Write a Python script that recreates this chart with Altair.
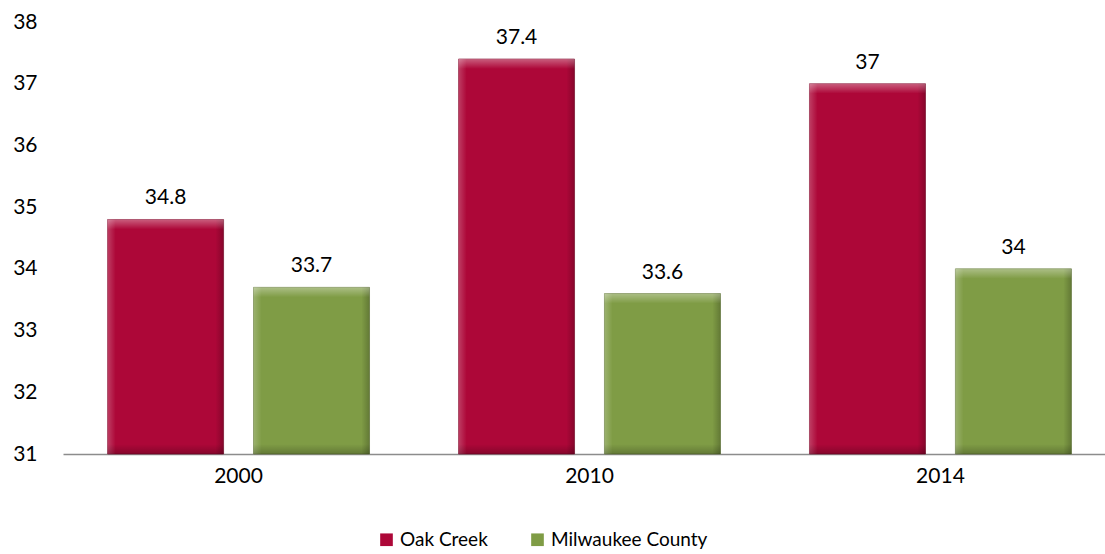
import altair as alt
import pandas as pd

years = ["2000", "2010", "2014"]
series = ["Oak Creek", "Milwaukee County"]
oak_creek = [34.8, 37.4, 37.0]
milwaukee = [33.7, 33.6, 34.0]
labels_oak = ["34.8", "37.4", "37"]
labels_mil = ["33.7", "33.6", "34"]
colors = ["#AD0738", "#7F9C45"]
y_ticks = [31, 32, 33, 34, 35, 36, 37, 38]

rows = []
for i, y in enumerate(years):
    rows.append({"year": y, "series": series[0], "value": oak_creek[i], "label": labels_oak[i]})
    rows.append({"year": y, "series": series[1], "value": milwaukee[i], "label": labels_mil[i]})
df = pd.DataFrame(rows)

FONT = "Lato"
FS = 21

x = alt.X("year:N", sort=years, title=None,
          scale=alt.Scale(range=[0, 1053], paddingInner=0.2536, paddingOuter=0.127),
          axis=alt.Axis(labelAngle=0, tickSize=0, labelPadding=11, labelFontSize=FS,
                        labelFont=FONT, labelColor="#000000", domainColor="#8c8c8c",
                        domainWidth=1.5))
xo = alt.XOffset("series:N", sort=series, scale=alt.Scale(paddingInner=0.205, paddingOuter=0))
y = alt.Y("value:Q", title=None,
          scale=alt.Scale(domain=[31, 38], zero=False, nice=False),
          axis=alt.Axis(values=y_ticks, format="d", grid=False, domain=False, ticks=False,
                        tickSize=0, labelPadding=26, labelFontSize=FS, labelFont=FONT,
                        labelColor="#000000"))

base = alt.Chart(df)

bars = base.mark_bar(strokeWidth=1, strokeOpacity=0.6).encode(
    x=x, xOffset=xo, y=y, y2=alt.datum(31),
    color=alt.Color("series:N", sort=series,
                    scale=alt.Scale(domain=series, range=colors),
                    legend=alt.Legend(title=None, orient="none", direction="horizontal",
                                      legendX=314, legendY=508, symbolType="square",
                                      symbolSize=160, symbolStrokeWidth=0,
                                      labelFontSize=19, labelFont=FONT, labelLimit=0,
                                      labelColor="#000000", columnPadding=40,
                                      labelOffset=4)),
    stroke=alt.Stroke("series:N", sort=series,
                      scale=alt.Scale(domain=series, range=["#7a0527", "#5a702f"]),
                      legend=None),
)

# horizontal bevel shading (left highlight, right shade)
side = base.mark_bar(
    fill=alt.Gradient(gradient="linear", x1=0, x2=1, y1=0, y2=0, stops=[
        alt.GradientStop(offset=0, color="rgba(255,255,255,0.22)"),
        alt.GradientStop(offset=0.07, color="rgba(255,255,255,0)"),
        alt.GradientStop(offset=0.93, color="rgba(0,0,0,0)"),
        alt.GradientStop(offset=1, color="rgba(0,0,0,0.22)"),
    ])
).encode(x=x, xOffset=xo, y=y, y2=alt.datum(31))

# top highlight strip
top = base.transform_calculate(top_low="datum.value - 0.16").mark_bar(
    fill=alt.Gradient(gradient="linear", x1=0, x2=0, y1=0, y2=1, stops=[
        alt.GradientStop(offset=0, color="rgba(255,255,255,0.35)"),
        alt.GradientStop(offset=1, color="rgba(255,255,255,0)"),
    ])
).encode(x=x, xOffset=xo, y=y, y2="top_low:Q")

# bottom shade strip
bottom = base.mark_bar(
    fill=alt.Gradient(gradient="linear", x1=0, x2=0, y1=0, y2=1, stops=[
        alt.GradientStop(offset=0, color="rgba(0,0,0,0)"),
        alt.GradientStop(offset=1, color="rgba(0,0,0,0.22)"),
    ])
).encode(x=x, xOffset=xo, y=alt.datum(31.16), y2=alt.datum(31))

text = base.mark_text(baseline="bottom", dy=-11, fontSize=FS, font=FONT, color="#000000").encode(
    x=x, xOffset=xo, y=y, text="label:N"
)

chart = alt.layer(bars, side, top, bottom, text).properties(
    width=1042, height=432,
    autosize=alt.AutoSizeParams(type="none"),
    padding={"left": 63, "top": 22, "right": 0, "bottom": 100},
).configure_view(stroke=None)

chart.save("out.html", embed_options={"renderer": "svg", "actions": False})
